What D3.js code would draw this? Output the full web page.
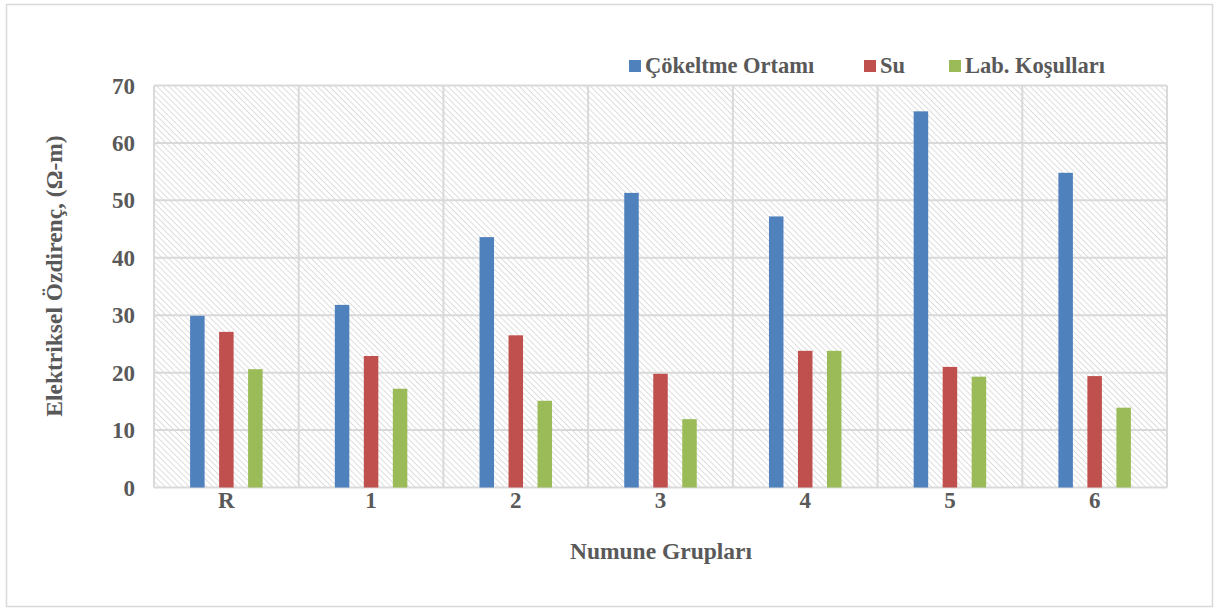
<!DOCTYPE html>
<html><head><meta charset="utf-8">
<script src="https://cdn.jsdelivr.net/npm/d3@7"></script>
<style>body{margin:0;background:#fff}svg{display:block}</style>
</head><body>
<svg id="c" width="1217" height="610"></svg>
<script>
const categories = ["R","1","2","3","4","5","6"];
const seriesNames = ["Çökeltme Ortamı","Su","Lab. Koşulları"];
const cokeltme = [29.9, 31.8, 43.6, 51.3, 47.2, 65.5, 54.8];
const su = [27.1, 22.9, 26.5, 19.8, 23.8, 21.0, 19.4];
const lab = [20.6, 17.2, 15.1, 11.9, 23.8, 19.3, 13.9];
const yTicks = [0,10,20,30,40,50,60,70];
const colors = ["#4f81bd","#c0504d","#9bbb59"];
const yTitle = "Elektriksel Özdirenç, (Ω-m)";
const xTitle = "Numune Grupları";

const svg = d3.select("#c");
const L=154, R=1167, T=85.5, B=487.5;
function styleText(sel, size){
  return sel.style("font-family","Liberation Serif").style("font-weight","bold")
    .style("font-size",size+"px").style("fill","#595959");
}

svg.append("rect").attr("x",6.5).attr("y",4.5).attr("width",1206).attr("height",602)
  .attr("fill","#fff").attr("stroke","#d9d9d9").attr("stroke-width",1.5);

const defs = svg.append("defs");
const pat = defs.append("pattern").attr("id","hatch").attr("patternUnits","userSpaceOnUse")
  .attr("width",4.2).attr("height",4.2).attr("patternTransform","rotate(45)");
pat.append("rect").attr("width",4.2).attr("height",4.2).attr("fill","#fff");
pat.append("line").attr("x1",0).attr("y1",0).attr("x2",4.2).attr("y2",0)
  .attr("stroke","#dadada").attr("stroke-width",1.8);

const x = d3.scaleBand().domain(categories).range([L,R]).padding(0);
const y = d3.scaleLinear().domain([0,70]).range([B,T]);

svg.append("rect").attr("x",L).attr("y",T).attr("width",R-L).attr("height",B-T).attr("fill","url(#hatch)");

svg.append("g").selectAll("line").data(yTicks).join("line")
  .attr("x1",L).attr("x2",R).attr("y1",d=>y(d)).attr("y2",d=>y(d))
  .attr("stroke","#d9d9d9").attr("stroke-width",2);
const vx = categories.map(c=>x(c)).concat([R]);
svg.append("g").selectAll("line").data(vx).join("line")
  .attr("x1",d=>d).attr("x2",d=>d).attr("y1",T).attr("y2",B)
  .attr("stroke","#d9d9d9").attr("stroke-width",2);

const data = [cokeltme, su, lab];
const bw = 14.5, step = 29;
data.forEach((vals,si)=>{
  svg.append("g").selectAll("rect").data(vals).join("rect")
    .attr("x",(d,i)=>x(categories[i])+x.bandwidth()/2+(si-1)*step-bw/2)
    .attr("width",bw)
    .attr("y",d=>y(d)).attr("height",d=>B-y(d))
    .attr("fill",colors[si]);
});

styleText(svg.append("g").selectAll("text").data(yTicks).join("text")
  .attr("x",135).attr("y",d=>y(d)+8).attr("text-anchor","end"),23).text(d=>d);
styleText(svg.append("g").selectAll("text").data(categories).join("text")
  .attr("x",d=>x(d)+x.bandwidth()/2).attr("y",508).attr("text-anchor","middle"),23).text(d=>d);
styleText(svg.append("text").attr("transform","translate(62,276) rotate(-90)").attr("text-anchor","middle"),23.5)
  .text(yTitle);
styleText(svg.append("text").attr("x",661).attr("y",559).attr("text-anchor","middle"),23.5)
  .text(xTitle);

const legX = [629, 864, 949];
seriesNames.forEach((n,i)=>{
  svg.append("rect").attr("x",legX[i]).attr("y",60).attr("width",12).attr("height",12).attr("fill",colors[i]);
  styleText(svg.append("text").attr("x",legX[i]+16).attr("y",73),22.5).text(n);
});
</script>
</body></html>
